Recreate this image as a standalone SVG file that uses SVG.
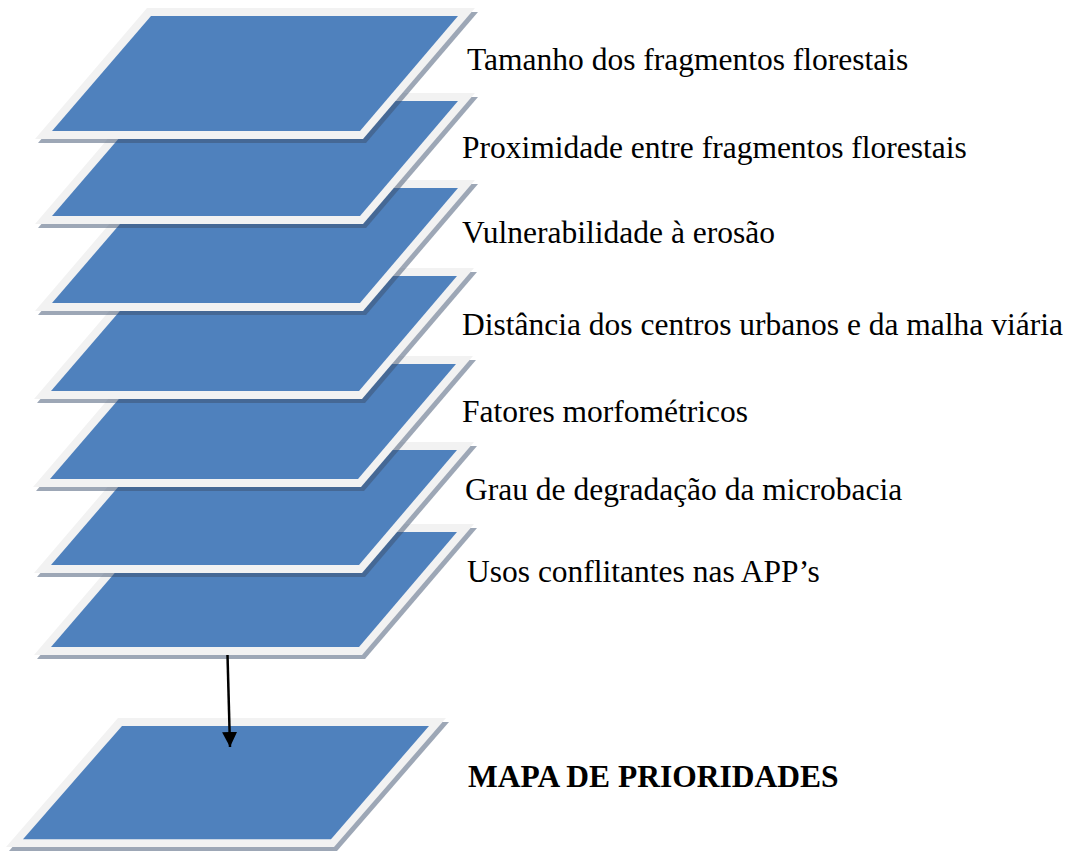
<svg xmlns="http://www.w3.org/2000/svg" width="1078" height="852" viewBox="0 0 1078 852">
<defs>
<marker id="arrowHead" markerWidth="15" markerHeight="15" refX="15" refY="7.5" orient="auto" markerUnits="userSpaceOnUse">
<path d="M0,0 L15,7.5 L0,15 Z" fill="#000"/>
</marker>
</defs>
<g id="layer-final" transform="translate(6,718) scale(1,0.985)">
<path fill="#3c506e" fill-opacity="0.5" d="M115,4 L443,4 L331,135 L3,135 Z"/>
<path fill="#f2f2f2" d="M112,0 L440,0 L328,131 L0,131 Z"/>
<path fill="#4f81bd" d="M116,8 L423,8 L325,123 L17,123 Z"/>
</g>
<g id="layer-usos" transform="translate(34,524)">
<path fill="#3c506e" fill-opacity="0.5" d="M115,4 L443,4 L331,135 L3,135 Z"/>
<path fill="#f2f2f2" d="M112,0 L440,0 L328,131 L0,131 Z"/>
<path fill="#4f81bd" d="M116,8 L423,8 L325,123 L17,123 Z"/>
</g>
<g id="layer-grau" transform="translate(34,442)">
<path fill="#3c506e" fill-opacity="0.5" d="M115,4 L443,4 L331,135 L3,135 Z"/>
<path fill="#f2f2f2" d="M112,0 L440,0 L328,131 L0,131 Z"/>
<path fill="#4f81bd" d="M116,8 L423,8 L325,123 L17,123 Z"/>
</g>
<g id="layer-fatores" transform="translate(33,356)">
<path fill="#3c506e" fill-opacity="0.5" d="M115,4 L443,4 L331,135 L3,135 Z"/>
<path fill="#f2f2f2" d="M112,0 L440,0 L328,131 L0,131 Z"/>
<path fill="#4f81bd" d="M116,8 L423,8 L325,123 L17,123 Z"/>
</g>
<g id="layer-distancia" transform="translate(34,268)">
<path fill="#3c506e" fill-opacity="0.5" d="M115,4 L443,4 L331,135 L3,135 Z"/>
<path fill="#f2f2f2" d="M112,0 L440,0 L328,131 L0,131 Z"/>
<path fill="#4f81bd" d="M116,8 L423,8 L325,123 L17,123 Z"/>
</g>
<g id="layer-vulnerabilidade" transform="translate(35,180)">
<path fill="#3c506e" fill-opacity="0.5" d="M115,4 L443,4 L331,135 L3,135 Z"/>
<path fill="#f2f2f2" d="M112,0 L440,0 L328,131 L0,131 Z"/>
<path fill="#4f81bd" d="M116,8 L423,8 L325,123 L17,123 Z"/>
</g>
<g id="layer-proximidade" transform="translate(35,93)">
<path fill="#3c506e" fill-opacity="0.5" d="M115,4 L443,4 L331,135 L3,135 Z"/>
<path fill="#f2f2f2" d="M112,0 L440,0 L328,131 L0,131 Z"/>
<path fill="#4f81bd" d="M116,8 L423,8 L325,123 L17,123 Z"/>
</g>
<g id="layer-tamanho" transform="translate(35,8)">
<path fill="#3c506e" fill-opacity="0.5" d="M115,4 L443,4 L331,135 L3,135 Z"/>
<path fill="#f2f2f2" d="M112,0 L440,0 L328,131 L0,131 Z"/>
<path fill="#4f81bd" d="M116,8 L423,8 L325,123 L17,123 Z"/>
</g>
<g id="labels" font-size="31.5px">
<text x="467" y="70" font-family="'Liberation Serif', 'Times New Roman', serif">Tamanho dos fragmentos florestais</text>
<text x="462" y="158" font-family="'Liberation Serif', 'Times New Roman', serif">Proximidade entre fragmentos florestais</text>
<text x="462" y="243" font-family="'Liberation Serif', 'Times New Roman', serif">Vulnerabilidade &#224; eros&#227;o</text>
<text x="462" y="335" font-family="'Liberation Serif', 'Times New Roman', serif">Dist&#226;ncia dos centros urbanos e da malha vi&#225;ria</text>
<text x="462" y="422" font-family="'Liberation Serif', 'Times New Roman', serif">Fatores morfom&#233;tricos</text>
<text x="465" y="500" font-family="'Liberation Serif', 'Times New Roman', serif">Grau de degrada&#231;&#227;o da microbacia</text>
<text x="467" y="582" font-family="'Liberation Serif', 'Times New Roman', serif">Usos conflitantes nas APP&#8217;s</text>
<text x="468" y="787" font-family="'Liberation Serif', 'Times New Roman', serif" font-weight="bold">MAPA DE PRIORIDADES</text>
</g>
<g id="connectors">
<line x1="227.5" y1="655" x2="230" y2="747" stroke="#000" stroke-width="2.5" marker-end="url(#arrowHead)"/>
</g>
</svg>
